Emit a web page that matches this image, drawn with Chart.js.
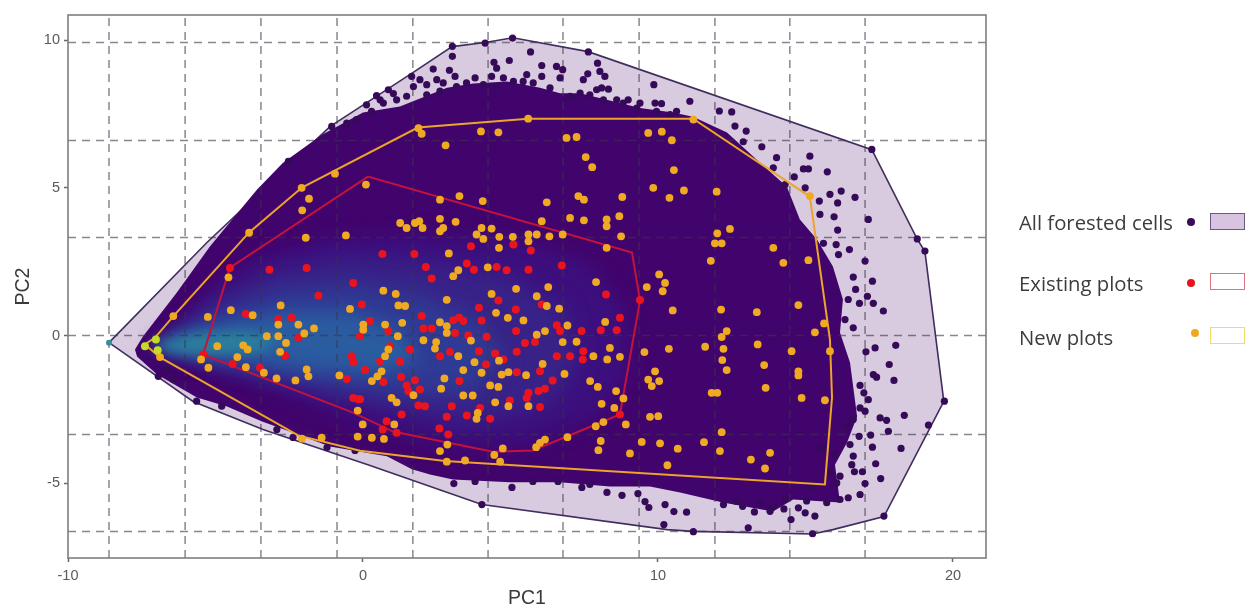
<!DOCTYPE html>
<html>
<head>
<meta charset="utf-8">
<title>PC1 / PC2 environmental space</title>
<script src="https://cdn.jsdelivr.net/npm/chart.js@4"></script>
<style>
  html, body { margin: 0; padding: 0; background: #fff; }
  #wrap { position: relative; width: 1248px; height: 610px; overflow: hidden; }
  #chart { display: block; filter: blur(0.7px); }
  .lbl { position: absolute; left: 1019px; font: 20.3px "Open Sans", sans-serif; color: #3c3c3c; line-height: 20px; white-space: nowrap; filter: blur(0.4px); }
  .dot { position: absolute; width: 8px; height: 8px; border-radius: 50%; }
  .box { position: absolute; left: 1210px; width: 33px; height: 15px; border: 1.5px solid; }
</style>
</head>
<body>
<div id="wrap">
  <canvas id="chart" width="1248" height="610"></canvas>
  <div class="lbl" style="top:212px">All forested cells</div>
  <div class="dot" style="left:1187px;top:218px;background:#3a0a5c"></div>
  <div class="box" style="top:213px;background:#d8c4e0;border-color:#6a5a80"></div>
  <div class="lbl" style="top:273px">Existing plots</div>
  <div class="dot" style="left:1187px;top:279px;background:#e8141c"></div>
  <div class="box" style="top:273px;border-color:#e0707c"></div>
  <div class="lbl" style="top:327px">New plots</div>
  <div class="dot" style="left:1191px;top:329px;background:#eda81e"></div>
  <div class="box" style="top:327px;border-color:#efdc6a"></div>
</div>
<script>
// axes
const xLimits = [-10, 21.12];
const yLimits = [-7.53, 10.85];
const xTicks = [-10, 0, 10, 20];
const yTicks = [-5, 0, 5, 10];
const gridXs = [-8.61, -6.03, -3.46, -0.88, 1.69, 4.24, 6.78, 9.36, 11.93, 14.47, 17.02];
const gridYs = [9.92, 6.6, 3.32, 0, -3.35, -6.63];

// convex hulls
const allHull = [[-8.61,-0.24],[-5.29,3.15],[-1.12,7.07],[1.69,8.9],[3.02,9.78],[4.14,9.92],[5.08,10.08],[7.63,9.61],[17.25,6.29],[18.78,3.28],[19.05,2.84],[19.69,-2.23],[17.66,-6.13],[15.93,-6.57],[15.25,-6.72],[11.19,-6.63],[10.31,-6.57],[4.03,-5.72],[0.24,-4.4],[-3.39,-3.18],[-5.76,-2.23]];
const existingHull = [[-5.42,-0.64],[-4.51,2.3],[0.17,5.38],[9.12,2.81],[9.39,1.18],[8.71,-2.67],[5.76,-3.89],[4.41,-3.93],[1.02,-3.25],[-0.34,-2.61]];
const newHull = [[-7.39,-0.3],[-7.05,-0.07],[-6.44,0.64],[-3.86,3.49],[-2.07,5.01],[1.86,7.04],[5.59,7.34],[11.19,7.34],[15.15,4.7],[15.83,-0.14],[15.9,-2.1],[15.66,-5.04],[2.78,-4.25],[-0.1,-3.9],[-2.2,-3.38],[-6.88,-0.74]];

// solid mass of overlapping cells, and its density contours
const cellMass = [[-7.73,-0.47],[-7.46,-0.03],[-6.31,1.46],[-5.19,3.01],[-3.59,4.94],[-2.71,5.85],[-1.39,6.8],[0,7.55],[1.25,7.75],[2.85,8.39],[3.73,8.53],[4.88,8.6],[6,8.39],[6.68,8.2],[7.36,8.2],[8.61,7.9],[9.39,7.7],[10.51,7.55],[11.19,7.41],[12.34,6.87],[13.46,5.85],[14.37,5.04],[14.81,3.93],[15.39,3.25],[15.93,2.34],[16.27,1.22],[16.17,0.1],[16.51,-0.91],[16.75,-2.74],[16.41,-3.62],[16,-4.37],[16.17,-5.65],[14.58,-5.55],[13.9,-5.96],[12.2,-5.65],[10.75,-5.31],[9.73,-5.11],[8.37,-5.11],[6.68,-4.97],[4.98,-4.97],[3.05,-4.87],[2.27,-4.7],[1.66,-4.53],[0.81,-4.09],[-1.12,-3.76],[-2.2,-3.35],[-3.42,-2.91],[-4.61,-2.4],[-5.63,-2.1],[-6.98,-1.32],[-7.66,-0.71]];
const density1 = [[-6.37,-0.3],[-5.53,1.22],[-3.83,2.5],[-1.46,3.25],[1.93,3.42],[5.32,3.25],[7.69,2.4],[8.88,0.88],[9.05,-1.15],[8.03,-2.67],[5.66,-3.69],[2.61,-3.69],[-0.44,-2.84],[-3.49,-1.66],[-5.86,-0.74]];
const density2 = [[-6.71,-0.3],[-5.02,1.22],[-3.15,2.17],[-0.78,2.64],[2.27,2.5],[4.98,2.06],[6.85,0.88],[7.36,-0.81],[6.34,-2.34],[3.63,-3.01],[0.24,-2.34],[-2.81,-1.49],[-5.53,-0.74]];
const density3 = [[-7.05,-0.3],[-5.02,0.71],[-2.81,1.56],[-0.44,1.73],[1.93,1.39],[3.97,0.54],[4.81,-0.81],[3.63,-2],[1.25,-2],[-1.46,-1.66],[-4.17,-1.08],[-6.2,-0.64]];
const density4 = [[-7.22,-0.34],[-5.19,0.3],[-2.81,0.81],[-0.44,0.81],[1.25,0.2],[1.93,-0.81],[0.58,-1.32],[-1.8,-1.15],[-4.17,-0.81],[-6.03,-0.58]];
const density5 = [[-7.22,-0.34],[-5.86,0.03],[-4.17,0.14],[-2.81,-0.07],[-3.49,-0.54],[-5.19,-0.64],[-6.54,-0.54]];

// separate cells outside the solid mass
const cellPoints = [
  [12.08,7.6],[12.5,7.57],[12.61,7.09],[12.99,6.92],[12.89,6.56],[13.52,6.39],[14.02,6.02],[15.15,6.07],[14.93,5.64],[15.1,5.64],[15.74,5.54],[14.62,5.37],[14.99,5],[16.21,4.89],[15.83,4.78],[16.68,4.68],[15.47,4.55],[16.09,4.49],[15.49,4.1],[15.97,4.02],[17.13,3.93],[16.09,3.57],[16.49,2.91],[16.04,3.08],[15.61,3.12],[16.12,2.74],[17.02,2.52],[16.62,1.98],[17.27,1.84],[16.7,1.56],[17.1,1.33],[16.45,1.22],[16.83,1.09],[17.3,1.09],[17.64,0.83],[16.34,0.54],[16.62,0.26],[18.79,3.27],[19.05,2.86],[17.25,6.3],[13.91,5.68],[14.31,5.11],
  [17.05,-0.55],[17.36,-0.42],[18.06,-0.33],[17.84,-0.98],[17.3,-1.32],[17.41,-1.41],[18,-1.52],[16.85,-1.69],[16.98,-1.94],[17.13,-2.17],[16.85,-2.45],[17.02,-2.56],[17.53,-2.79],[17.75,-2.87],[18.35,-2.7],[19.71,-2.22],[19.17,-3.03],[17.81,-3.24],[17.21,-3.37],[16.82,-3.41],[16.51,-3.69],[17.27,-3.78],[18.24,-3.82],[16.62,-4.08],[16.57,-4.37],[17.38,-4.34],[16.66,-4.61],[16.93,-4.61],[17.55,-4.84],[17.02,-5.01],[15.55,-3.82],[16,-4.03],[16.06,-4.99],[16.85,-5.38],[16.45,-5.49],[16.17,-5.55],[15.72,-5.66],[17.66,-6.11],[15.24,-6.71],[14.51,-6.23],[13.06,-6.51],[11.2,-6.64],[10.97,-5.98],[15.32,-6.11],[14.99,-6],[14.76,-5.83],[14.27,-5.87],[13.27,-5.97],[12.22,-5.72],[12.65,-5.61],[12.87,-5.78],
  [16.4,-3.07],[16.62,-2.84],[16.17,-4.76],[15.83,-4.65],[15.15,-5.1],[13.46,-5.66],[13.91,-5.78],[13.8,-5.95],[14.31,-5.55],[15.04,-5.6],
  [3.08,-5.01],[3.8,-4.94],[5.05,-5.14],[5.76,-4.94],[6.61,-4.94],[7.42,-5.14],[7.69,-5.04],[8.27,-5.31],[8.78,-5.41],[9.32,-5.35],[9.56,-5.62],[9.69,-5.82],[10.24,-5.72],[10.54,-5.96],[10.2,-6.4],[4.03,-5.72],
  [3.03,9.79],[4.14,9.9],[5.07,10.07],[5.68,9.6],[7.64,9.6],[7.95,9.22],[3.03,9.45],[4.96,9.31],[4.44,9.25],[4.53,9.05],[6.06,9.14],[6.56,9.11],[6.77,9],[2.38,9.02],[2.93,8.98],[3.12,8.77],[8.03,8.94],[8.2,8.77],[7.62,8.86],[7.47,8.66],[9.86,8.49],[6.68,8.72],[7.92,8.32],[8.32,8.34],[8.09,8.38],[11.08,7.93],[9.9,7.87],[10.12,7.85],[8.99,7.98],[8.6,7.98],[0.86,8.32],[1.03,8.19],[0.46,8.12],[0.12,7.81],[0.69,7.87],[-1.06,7.08],[-2.53,5.9],[1.65,8.77],[1.93,8.66],[2.5,8.66],[2.72,8.55],[1.71,8.43],[3.8,8.72],[4.36,8.77],[5.55,8.83],[6.06,8.77],[4.53,8.43],[7.36,8.21],[9.39,7.87],[10.63,7.59],[2.16,8.49],
  [0.58,7.98],[1.14,7.98],[1.48,8.1],[2.16,8.15],[2.61,8.27],[3.17,8.43],[3.51,8.55],[4.08,8.49],[4.76,8.72],[5.1,8.6],[5.43,8.6],[5.77,8.55],[6.34,8.38],[7.02,8.1],[7.69,8.15],[8.15,7.98],[8.82,7.87],[9.28,7.7],[9.95,7.59],[10.41,7.48],[-0.22,7.31],[-0.55,7.19],[0.29,7.59],
  [-6.94,-1.38],[-5.64,-2.22],[-4.79,-2.39],[-6.65,-1.15],[-6.43,-1.49],[-2.37,-3.45],[-2.92,-3.18],[-0.27,-3.89],[-1.22,-3.79]
];
const tipCell = [[-8.61,-0.24]];

const existingPlots = [
  [0.66,2.76],[1.74,2.76],[3.66,3.02],[2.13,2.32],[3.52,2.44],[3.76,2.23],[4.53,2.32],[4.87,2.21],[2.33,1.93],[5.69,2.88],[5.1,3.08],[5.61,2.23],[6.74,2.37],[8.24,1.39],[9.39,1.2],[4.59,1.19],[3.93,0.94],[5.18,0.88],[6.06,1.05],[1.99,0.66],[-0.04,1.05],[3.26,0.6],[3.06,0.52],[3.4,0.49],[4.02,0.51],[2.05,0.24],[2.33,0.24],[3.12,0.09],[3.57,0],[4.19,-0.04],[5.19,0.15],[6.57,0.35],[6.68,0.15],[7.41,0.15],[8.06,0.18],[8.6,0.18],[8.71,0.6],[5.49,-0.25],[5.83,-0.22],[1.59,-0.47],[0.92,-0.36],[0.24,0.49],[0.86,0.15],[3.93,-0.53],[5.21,-0.55],[2.95,-0.56],[2.61,-0.7],[4.48,-0.61],[4.76,-0.81],[6.57,-0.7],[7.02,-0.7],[7.47,-0.53],[7.45,-0.81],[1.26,-0.89],[0.58,-0.87],[0.07,-1.17],[4.17,-0.98],[6,-1.21],[5.21,-1.24],[1.29,-1.4],[1.76,-1.51],[3.27,-1.54],[6.43,-1.52],[0.69,-1.57],[1.48,-1.69],[1.54,-1.88],[1.93,-1.83],[6.17,-1.8],[5.95,-1.88],[5.61,-1.94],[5.55,-2.11],[4.98,-2.2],[3.01,-2.39],[1.88,-2.37],[2.1,-2.39],[1.31,-2.67],[2.84,-2.75],[3.52,-2.71],[3.97,-2.45],[4.31,-2.82],[6,-2.42],[0.8,-2.9],[0.67,-3.18],[1.14,-3.29],[2.59,-3.15],[2.89,-3.35],[8.71,-2.67],[-0.1,-2.16],
  [-4.51,2.29],[-3.17,2.23],[-1.91,2.29],[-0.33,1.78],[-1.51,1.35],[-3.97,0.73],[-2.42,0.6],[-2.87,0.54],[-2.19,-0.08],[-0.1,-0.02],[-0.38,-0.7],[-0.33,-0.9],[-2.64,-0.68],[-4.42,-0.96],[-3.49,-1.09],[-0.55,-1.47],[-0.33,-2.11],[-0.16,-2.16],[-5.41,-0.64]
];

const newPlots = [
  [0.1,5.11],[2.61,4.6],[3.27,4.72],[4.06,4.55],[6.23,4.51],[7.3,4.72],[7.49,4.6],[8.79,4.69],[9.84,5],[10.39,4.66],[1.26,3.81],[1.48,3.64],[1.91,3.87],[1.76,3.81],[2.02,3.64],[2.61,3.95],[3.14,3.85],[2.61,3.53],[2.72,3.64],[4.02,3.64],[4.36,3.62],[3.85,3.42],[4.08,3.27],[4.62,3.34],[5.08,3.34],[5.61,3.42],[5.61,3.19],[5.89,3.42],[6.32,3.36],[6.77,3.42],[6.06,3.87],[7.02,3.98],[7.49,3.9],[8.26,3.93],[8.26,3.7],[8.69,4.04],[8.75,3.36],[8.26,2.97],[4.61,2.97],[2.91,2.78],[4.23,2.31],[3.23,2.21],[3.06,2.01],[10.04,2.07],[10.24,1.78],[9.62,1.64],[10.16,1.5],[10.5,0.85],[7.9,1.81],[6.28,1.64],[5.19,1.58],[4.36,1.41],[5.89,1.33],[0.69,1.52],[1.11,1.41],[2.84,1.21],[1.2,1.02],[1.43,1],[6.23,1],[6.65,0.91],[4.51,0.77],[4.91,0.6],[5.44,0.51],[1.33,0.43],[0.75,0.37],[0.01,0.37],[0.01,0.2],[2.61,0.45],[2.84,0.32],[2.84,0.09],[6.93,0.34],[8.21,0.46],[1.18,-0.02],[2.05,-0.16],[2.48,-0.22],[2.44,-0.44],[3.66,-0.17],[5.89,0.03],[6.17,0.15],[6.77,-0.22],[7.24,-0.21],[0.86,-0.47],[0.75,-0.7],[8.37,-0.42],[7.81,-0.7],[8.28,-0.81],[8.71,-0.72],[9.54,-0.56],[10.37,-0.45],[3.23,-0.7],[3.78,-0.9],[4.61,-0.85],[6.09,-0.96],[3.4,-1.17],[4.02,-1.26],[4.7,-1.32],[4.93,-1.24],[5.53,-1.34],[6.83,-1.3],[0.63,-1.21],[0.49,-1.38],[0.3,-1.54],[2.76,-1.45],[9.9,-1.21],[9.67,-1.49],[10.04,-1.54],[9.79,-1.71],[7.7,-1.54],[7.96,-1.74],[4.31,-1.69],[4.59,-1.74],[2.65,-1.8],[8.58,-1.88],[3.4,-2.03],[3.72,-2.03],[1.71,-2.02],[8.83,-2.13],[0.97,-2.11],[1.14,-2.26],[4.48,-2.26],[4.93,-2.39],[5.61,-2.39],[8.09,-2.31],[8.52,-2.45],[9.73,-2.75],[10.01,-2.73],[3.89,-2.62],[3.85,-2.82],[-0.01,-3.01],[1.06,-3.01],[8.91,-3.01],[7.89,-3.07],[8.15,-2.93],[0.3,-3.46],[0.71,-3.5],[2.86,-3.69],[2.61,-3.91],[4.74,-3.82],[4.45,-4.04],[6.17,-3.52],[6,-3.63],[5.87,-3.78],[6.93,-3.44],[8.06,-3.57],[7.98,-3.88],[9.45,-3.6],[10.07,-3.65],[9.05,-3.99],[10.67,-3.83],[10.32,-4.39],[2.84,-4.27],[3.46,-4.23],[4.65,-4.27],
  [-2.08,5],[-1.83,4.63],[-2.06,4.24],[-1.94,3.31],[-0.58,3.39],[-3.86,3.48],[-4.56,1.97],[-6.43,0.66],[-5.26,0.63],[-4.48,0.86],[-2.79,1.02],[-0.44,0.9],[-3.74,0.69],[-2.87,0.37],[-2.19,0.37],[-1.66,0.24],[-3.26,-0.02],[-1.99,0.07],[-2.87,-0.02],[-2.61,-0.25],[-2.81,-0.55],[-4.94,-0.36],[-4.06,-0.33],[-3.91,-0.47],[-4.26,-0.73],[-5.49,-0.81],[-5.24,-1.09],[-3.97,-1.07],[-3.36,-1.26],[-2.93,-1.45],[-2.29,-1.52],[-1.91,-1.15],[-1.85,-1.38],[-0.8,-1.35],[-0.18,-2.54],[-6.88,-0.73],[-0.18,-3.42],[-2.07,-3.49],[-1.4,-3.46],
  [10.13,6.9],[10.47,6.61],[10.54,5.6],[10.88,4.91],[11.99,4.87],[12.01,3.46],[12.44,3.61],[11.93,3.12],[12.16,3.12],[13.91,2.97],[11.79,2.53],[14.25,2.46],[15.1,2.55],[12.14,0.88],[13.35,0.79],[14.76,1.03],[15.63,0.41],
  [11.6,-0.38],[12.22,-0.45],[12.16,-0.05],[12.33,0.15],[13.38,-0.3],[14.53,-0.53],[15.32,0.11],[12.18,-0.83],[12.33,-1.17],[13.6,-1],[14.76,-1.21],[14.76,-1.35],[13.65,-1.77],[11.82,-1.94],[12.01,-1.94],[14.87,-2.11],[15.66,-2.19],[15.83,-0.53],[12.16,-3.27],[11.56,-3.61],[12.1,-3.91],[13.8,-3.97],[13.15,-4.2],[13.63,-4.5],
  [1.88,7.02],[1.99,6.83],[2.8,6.44],[4,6.91],[4.59,6.88],[6.9,6.69],[7.24,6.72],[7.55,6.04],[7.77,5.7],[9.67,6.86],[-0.95,5.48],[5.6,7.34],[15.15,4.72],[11.2,7.31]
];
const tipPlots = [[-7.39,-0.36],[-7.02,-0.13],[-6.96,-0.5]];

const closed = pts => pts.concat([pts[0]]);

function polygon(pts, fillColor, lineColor, lineWidth) {
  return {
    type: 'scatter', data: closed(pts), showLine: true, pointRadius: 0, tension: 0,
    fill: fillColor ? 'shape' : false, backgroundColor: fillColor || 'transparent',
    borderColor: lineColor || 'transparent', borderWidth: lineWidth || 0
  };
}
function contour(pts, color, blur) {
  return { type: 'scatter', data: closed(pts), showLine: false, pointRadius: 0, contourColor: color, contourBlur: blur };
}
function dots(pts, color, radius) {
  return { type: 'scatter', data: pts, showLine: false, pointRadius: radius, pointBorderWidth: 0, pointBackgroundColor: color };
}
function gridLine(pts) {
  return { type: 'scatter', data: pts, showLine: true, pointRadius: 0, borderColor: 'rgba(60,52,72,0.6)', borderWidth: 1.5, borderDash: [8, 6], fill: false };
}

// listed bottom layer first, chart.js paints the first dataset last so it gets reversed below
const layers = [
  polygon(allHull, '#d8cadf', '#3f2e5e', 1.6),
  polygon(cellMass, '#41046c'),
  contour(density1, '#3c0f7e', 9),
  contour(density2, '#382288', 10),
  contour(density3, '#2f3a94', 10),
  contour(density4, '#2a5ca0', 9),
  contour(density5, '#2a7f9c', 6),
  ...gridXs.map(x => gridLine([[x, yLimits[0]], [x, yLimits[1]]])),
  ...gridYs.map(y => gridLine([[xLimits[0], y], [xLimits[1], y]])),
  dots(cellPoints, '#350a58', 3.6),
  dots(tipCell, '#3d8a9c', 3),
  polygon(existingHull, null, '#c3123c', 2),
  polygon(newHull, null, '#eca42a', 2),
  dots(existingPlots, '#ea141e', 4),
  dots(newPlots, '#f0aa22', 3.9),
  dots(tipPlots, '#c4dc28', 4)
];

// blurred contour fills, drawn from the points the scales have placed
const contourPlugin = {
  id: 'contourFill',
  afterDatasetDraw(chart, args) {
    const ds = chart.data.datasets[args.index];
    if (!ds.contourColor) return;
    const ctx = chart.ctx;
    const pts = chart.getDatasetMeta(args.index).data;
    ctx.save();
    ctx.filter = `blur(${ds.contourBlur}px)`;
    ctx.fillStyle = ds.contourColor;
    ctx.beginPath();
    pts.forEach((p, i) => i ? ctx.lineTo(p.x, p.y) : ctx.moveTo(p.x, p.y));
    ctx.closePath();
    ctx.fill();
    ctx.restore();
  }
};

const framePlugin = {
  id: 'frame',
  afterDatasetsDraw(chart) {
    const { ctx, chartArea: a } = chart;
    ctx.save();
    ctx.strokeStyle = '#7f7f7f';
    ctx.lineWidth = 1.6;
    ctx.strokeRect(a.left, a.top, a.right - a.left, a.bottom - a.top);
    ctx.restore();
  }
};

function axis(limits, tickValues, title, titlePadding, tickPadding, fit) {
  return {
    type: 'linear', min: limits[0], max: limits[1],
    afterBuildTicks: s => { s.ticks = tickValues.map(v => ({ value: v })); },
    afterFit: fit,
    border: { display: false },
    grid: { display: true, drawOnChartArea: false, color: '#666', tickLength: 4, tickWidth: 1.5 },
    ticks: { color: '#5a5a5a', padding: tickPadding, font: { family: '"Liberation Sans"', size: 14.5 }, maxRotation: 0 },
    title: { display: true, text: title, color: '#3a3a3a', padding: titlePadding, font: { family: '"Liberation Sans"', size: 19.5 } }
  };
}

new Chart(document.getElementById('chart'), {
  data: { datasets: layers.reverse() },
  plugins: [contourPlugin, framePlugin],
  options: {
    responsive: false,
    animation: false,
    layout: { padding: { top: 15, right: 262, left: 0, bottom: 0 } },
    plugins: { legend: { display: false }, tooltip: { enabled: false } },
    scales: {
      x: axis(xLimits, xTicks, 'PC1', { top: 0, bottom: 0 }, 5, s => { s.height = 52; }),
      y: axis(yLimits, yTicks, 'PC2', { top: 12, bottom: 0 }, 4, s => { s.width = 68; })
    }
  }
});
</script>
</body>
</html>
